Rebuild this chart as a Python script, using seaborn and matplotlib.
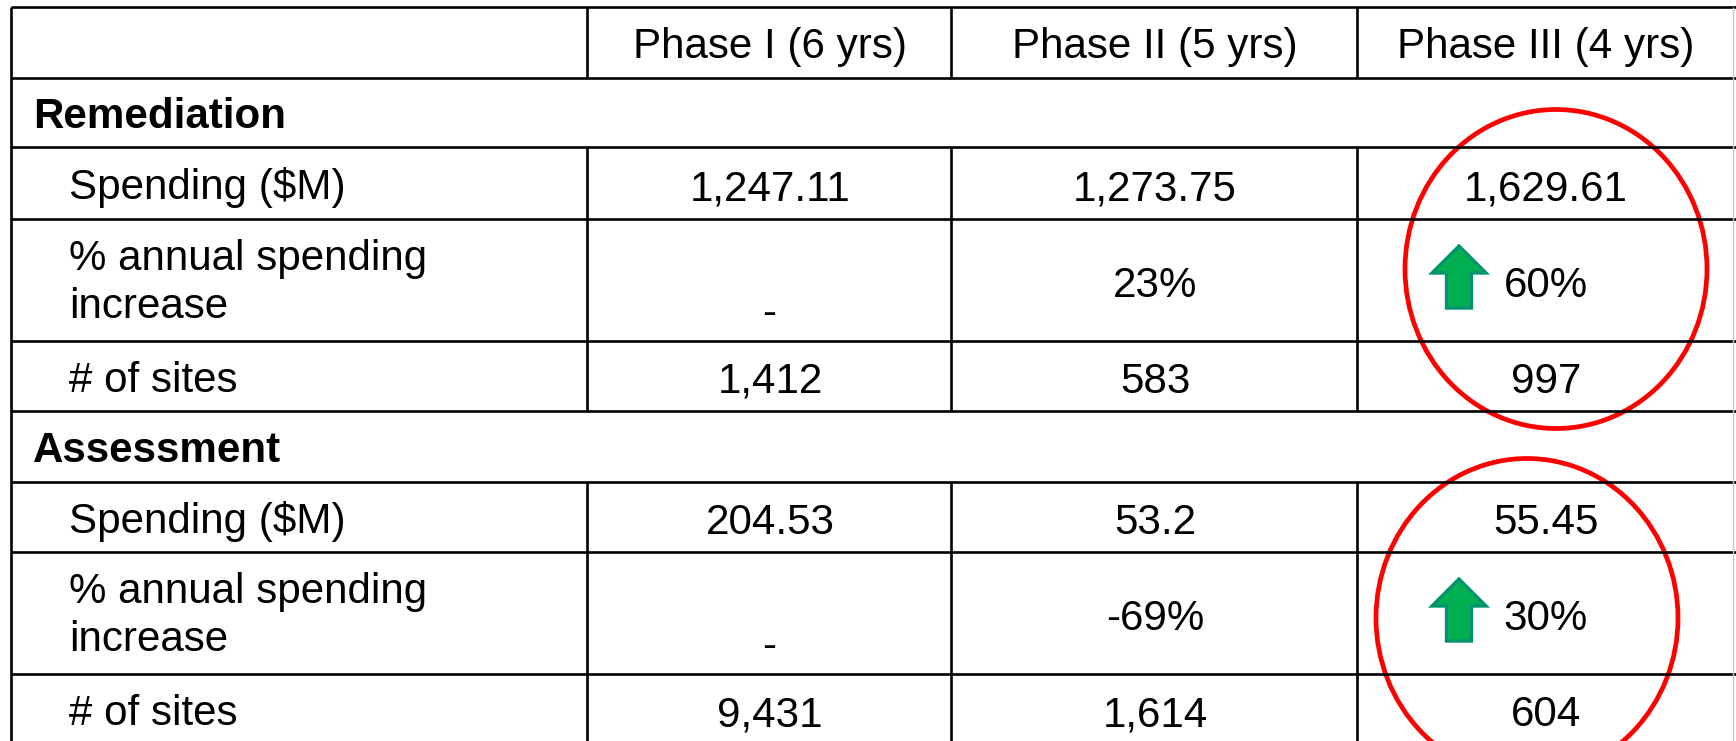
import matplotlib
matplotlib.use("Agg")
import matplotlib.pyplot as plt
from matplotlib.patches import Ellipse, FancyArrow
import seaborn as sns

# Table content
phases = ["Phase I (6 yrs)", "Phase II (5 yrs)", "Phase III (4 yrs)"]
groups = ["Remediation", "Assessment"]
metrics = ["Spending ($M)", "% annual spending\nincrease", "# of sites"]

remediation_spending = ["1,247.11", "1,273.75", "1,629.61"]
remediation_increase = ["-", "23%", "60%"]
remediation_sites = ["1,412", "583", "997"]

assessment_spending = ["204.53", "53.2", "55.45"]
assessment_increase = ["-", "-69%", "30%"]
assessment_sites = ["9,431", "1,614", "604"]

group_values = {
    "Remediation": [remediation_spending, remediation_increase, remediation_sites],
    "Assessment": [assessment_spending, assessment_increase, assessment_sites],
}
highlight_phase = "Phase III (4 yrs)"   # circled column, up arrows on the increase

# Layout (pixel grid of the slide)
W, H = 1736, 741
col_edges = [11, 587, 951, 1357, 1733]
row_edges = [7, 78, 147, 219, 341, 411, 482, 552, 674, 744]
row_kind = ["header", "group", "spending", "increase", "sites",
            "group", "spending", "increase", "sites"]
FS = 30.3
LW = 1.9

sns.set_theme(style="white")
plt.rcParams["font.family"] = ["Liberation Sans", "DejaVu Sans"]
plt.rcParams["text.color"] = "black"

fig = plt.figure(figsize=(W / 100, H / 100), dpi=100)
ax = fig.add_axes([0, 0, 1, 1])
ax.set_xlim(0, W)
ax.set_ylim(H, 0)
ax.axis("off")

# grid lines
ax.hlines(row_edges, col_edges[0], W, color="black", lw=LW)
ax.vlines(col_edges[0], row_edges[0], row_edges[-1], color="black", lw=LW)
ax.vlines(col_edges[-1], row_edges[0], row_edges[-1], color="#c8c8c8", lw=1)
for i, kind in enumerate(row_kind):
    if kind != "group":
        ax.vlines(col_edges[1:-1], row_edges[i], row_edges[i + 1], color="black", lw=LW)

# centres of the three phase columns
col_left = col_edges[1:-1]
col_mid = [(col_edges[j + 1] + col_edges[j + 2]) / 2 for j in range(3)]
hi = phases.index(highlight_phase)

# header row
for j, ph in enumerate(phases):
    ax.text(col_mid[j] + 1, row_edges[1] - 20, ph, fontsize=FS, ha="center", va="baseline")

# body
r = 1
for g in groups:
    top, bot = row_edges[r], row_edges[r + 1]
    ax.text(col_edges[0] + 22, (top + bot) / 2 + 15, g, fontsize=FS,
            fontweight="bold", ha="left", va="baseline")
    r += 1
    first = r
    for m, metric in enumerate(metrics):
        top, bot = row_edges[r], row_edges[r + 1]
        cy = (top + bot) / 2
        vals = group_values[g][m]
        if "\n" in metric:
            line1, line2 = metric.split("\n")
            ax.text(col_edges[0] + 58, cy - 10, line1, fontsize=FS, ha="left", va="baseline")
            ax.text(col_edges[0] + 58, cy + 38, line2, fontsize=FS, ha="left", va="baseline")
        else:
            ax.text(col_edges[0] + 58, cy + 16, metric, fontsize=FS, ha="left", va="baseline")
        for j, v in enumerate(vals):
            if v == "-":
                ax.text(col_mid[j], cy + 45, v, fontsize=FS, ha="center", va="baseline")
            else:
                ax.text(col_mid[j] + 1, cy + 17, v, fontsize=FS, ha="center", va="baseline")
            if j == hi and metric.startswith("%"):
                ax.add_patch(FancyArrow(col_left[j] + 102, cy + 28, 0, -62,
                                        width=25, head_width=54, head_length=27,
                                        length_includes_head=True,
                                        facecolor="#00b050", edgecolor="#00936f", lw=2.4))
        r += 1
    # red ellipse around the highlighted column of this group
    ctop, cbot = row_edges[first], row_edges[r]
    dx, dy = (11, -10) if g == "Remediation" else (-18, 5)
    ax.add_patch(Ellipse((col_mid[hi] + dx, (ctop + cbot) / 2 + dy), 302, 319,
                         fill=False, edgecolor="#ff0000", lw=3.4))

fig.savefig("out.png", dpi=100, facecolor="white")
